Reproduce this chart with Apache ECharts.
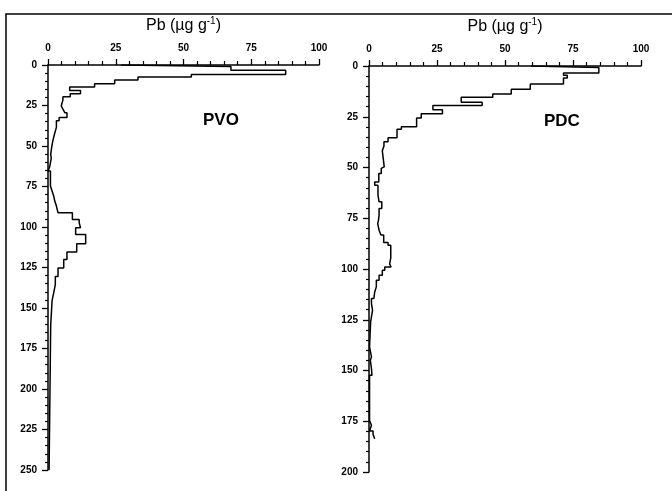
<!DOCTYPE html>
<html>
<head>
<meta charset="utf-8">
<script src="https://cdn.jsdelivr.net/npm/echarts@6/dist/echarts.min.js"></script>
<style>
  html, body { margin: 0; padding: 0; background: #fff; }
  #chart { width: 672px; height: 491px; }
</style>
</head>
<body>
<div id="chart"></div>
<script>
// Pb depth profiles: top depth of each layer (last entry = bottom) and Pb in that layer
const pvoDepth = [0, 1.0, 3.3, 5.8, 7.4, 9.3, 11.6, 13.6, 15.7, 17.8, 19.6, 21.7, 25.2, 27.3, 29.4, 32.4, 34.4, 38.5, 42.6, 46.7,
  50.2, 55.2, 57.5, 63.0, 65.4, 74.7, 77.8, 80.9, 84.0, 87.1, 91.2, 95.4, 97.4, 100.5, 104.6, 110.4, 115.5, 120.1, 125.3, 130.5,
  135.6, 140.7, 145.5, 160.4, 250];
const pvoPb = [27, 67.5, 87.7, 52.9, 33.2, 24.6, 17.2, 8.0, 12.0, 8.2, 5.5, 4.9, 5.5, 6.2, 7.0, 4.1, 3.1, 2.4, 1.8, 1.4,
  1.0, 1.2, 0.6, 0.0, 0.9, 1.5, 2.1, 2.5, 3.1, 3.7, 9.0, 11.5, 12.0, 10.2, 13.9, 10.6, 7.0, 5.8, 3.7, 2.7,
  2.1, 1.5, 1.0, 0.4];

const pdcDepth = [0, 0.8, 3.5, 4.6, 5.9, 8.9, 11.5, 13.8, 15.4, 17.8, 19.4, 21.5, 23.5, 25.6, 29.9, 31.2, 35.4, 37.3, 39.4, 41.8,
  49.7, 50.4, 52.9, 57.1, 58.7, 63.6, 66.9, 70.2, 73.5, 75.9, 77.6, 80.9, 83.3, 86.9, 88.3, 94.5, 97.5, 99.0, 100.6, 103.1,
  105.5, 108.8, 111.3, 114.5, 117.0, 120.3, 126.1, 138.4, 143.3, 145.0, 149.1, 152.4, 174.6, 177.0, 179.8, 181.5, 183.6];
const pdcPb = [59.6, 84.5, 71.5, 72.9, 71.5, 59.3, 52.3, 45.5, 33.9, 41.6, 23.5, 27.0, 19.2, 17.5, 11.9, 10.3, 7.0, 5.5, 4.9, 5.6,
  4.9, 4.5, 3.6, 2.1, 3.3, 3.7, 4.7, 3.7, 3.5, 3.2, 3.7, 4.4, 5.4, 7.0, 8.0, 7.6, 8.1, 5.8, 4.9, 3.7,
  2.7, 2.1, 1.8, 0.9, 1.3, 0.6, 0.2, 0.9, 0.5, 0.9, 1.1, 0.2, 0.9, 0.2, 1.5, 2.1];

const pbTicks = [0, 25, 50, 75, 100];
const siteNames = ["PVO", "PDC"];
const axisTitle = "Pb (µg g{sup|-1})";

// each layer -> vertical segment from its top to its bottom
function stepProfile(depth, pb) {
  const pts = [];
  for (let i = 0; i < pb.length; i++) {
    pts.push([pb[i], depth[i]]);
    pts.push([pb[i], depth[i + 1]]);
  }
  return pts;
}

const font = "Liberation Sans, Arial, sans-serif";
const black = "#000";

function xAxisCfg(gridIndex) {
  return {
    gridIndex: gridIndex,
    type: "value",
    position: "top",
    min: pbTicks[0],
    max: pbTicks[pbTicks.length - 1],
    interval: 25,
    name: axisTitle,
    nameLocation: "middle",
    nameGap: 30,
    nameTextStyle: {
      fontFamily: font, fontSize: 16, color: black,
      rich: { sup: { fontFamily: font, fontSize: 10, color: black, verticalAlign: "top", padding: [0, 0, 9, 0] } }
    },
    axisLine: { show: true, onZero: false, lineStyle: { color: black, width: 1.5 } },
    axisTick: { show: true, length: 6, lineStyle: { color: black, width: 1.3 } },
    minorTick: { show: true, splitNumber: 5, length: 4, lineStyle: { color: black, width: 1.2 } },
    splitLine: { show: false },
    axisLabel: { margin: 12, fontFamily: font, fontSize: 10, fontWeight: "bold", color: black }
  };
}

function yAxisCfg(gridIndex, max) {
  return {
    gridIndex: gridIndex,
    type: "value",
    inverse: true,
    min: 0,
    max: max,
    interval: 25,
    axisLine: { show: true, onZero: false, lineStyle: { color: black, width: 1.5 } },
    axisTick: { show: true, length: 6, lineStyle: { color: black, width: 1.3 } },
    minorTick: { show: true, splitNumber: 5, length: 3, lineStyle: { color: black, width: 1.2 } },
    splitLine: { show: false },
    axisLabel: { margin: 11, fontFamily: font, fontSize: 10, fontWeight: "bold", color: black }
  };
}

function profileSeries(idx, depth, pb) {
  return {
    type: "line",
    xAxisIndex: idx,
    yAxisIndex: idx,
    data: stepProfile(depth, pb),
    showSymbol: false,
    symbol: "none",
    animation: false,
    lineStyle: { color: black, width: 1.5 }
  };
}

const chart = echarts.init(document.getElementById("chart"), null, { renderer: "canvas" });
chart.setOption({
  backgroundColor: "#fff",
  animation: false,
  grid: [
    { left: 48, top: 65, width: 271, height: 405 },
    { left: 369, top: 66, width: 272, height: 406 }
  ],
  xAxis: [xAxisCfg(0), xAxisCfg(1)],
  yAxis: [yAxisCfg(0, 250), yAxisCfg(1, 200)],
  series: [
    profileSeries(0, pvoDepth, pvoPb),
    profileSeries(1, pdcDepth, pdcPb)
  ],
  graphic: [
    {
      type: "rect", silent: true,
      shape: { x: 6, y: 14, width: 700, height: 500 },
      style: { fill: "none", stroke: black, lineWidth: 1.5 }
    },
    {
      type: "text", left: 203, top: 112,
      style: { text: siteNames[0], font: "bold 17px " + font, fill: black }
    },
    {
      type: "text", left: 544, top: 113,
      style: { text: siteNames[1], font: "bold 17px " + font, fill: black }
    }
  ]
});
</script>
</body>
</html>
